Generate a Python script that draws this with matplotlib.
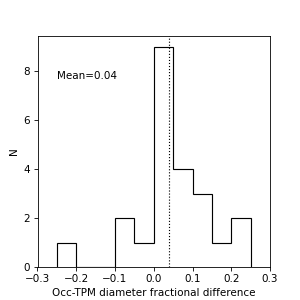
import numpy as np
import matplotlib
matplotlib.use('Agg')
import matplotlib.pyplot as plt

edges = [-0.25, -0.2, -0.15, -0.1, -0.05, 0.0, 0.05, 0.1, 0.15, 0.2, 0.25]
counts = [1, 0, 0, 2, 1, 9, 4, 3, 1, 2]
mean_val = 0.04

fig = plt.figure(figsize=(4, 4), dpi=75)
ax = fig.add_subplot(111)

ax.hist(edges[:-1], bins=edges, weights=counts, histtype='step', color='black', lw=1.1)
ax.axvline(mean_val, color='black', ls=':', lw=1.1)
ax.text(-0.25, 7.8, f'Mean={mean_val:.2f}', va='center', ha='left')

ax.set_xlim(-0.3, 0.3)
ax.set_xlabel('Occ-TPM diameter fractional difference')
ax.set_ylabel('N')

fig.savefig('out.png', dpi=75)
